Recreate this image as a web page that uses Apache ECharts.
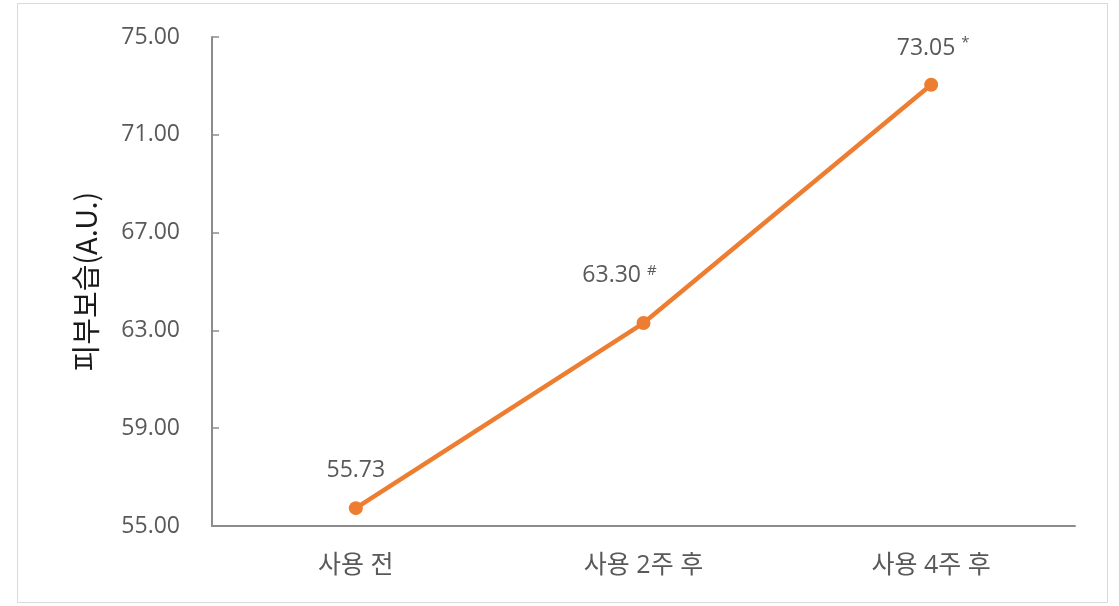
<!DOCTYPE html>
<html>
<head>
<meta charset="utf-8">
<script src="https://cdn.jsdelivr.net/npm/echarts@6/dist/echarts.min.js"></script>
<style>
html,body{margin:0;padding:0;background:#fff;}
#chart{width:1119px;height:606px;}
</style>
</head>
<body>
<div id="chart"></div>
<script>
// Skin moisture over the usage period
const categories = ['사용 전', '사용 2주 후', '사용 4주 후'];
const moisture = [55.73, 63.30, 73.05];
const marks = ['', '#', '*'];
const yTicks = { min: 55, max: 75, interval: 4 };

const font = '"Open Sans", "Noto Sans CJK KR", sans-serif';
const krFont = '"Noto Sans CJK KR", sans-serif';
const labelOffsets = [[0, -9], [-24, -18], [2, -7]];

const chart = echarts.init(document.getElementById('chart'));
chart.setOption({
  animation: false,
  graphic: [{
    type: 'rect',
    shape: { x: 17.5, y: 3.5, width: 1090, height: 599 },
    style: { fill: 'none', stroke: '#d9d9d9', lineWidth: 1 }
  }],
  grid: { left: 212, right: 44, top: 37, bottom: 80 },
  xAxis: {
    type: 'category',
    data: categories,
    boundaryGap: true,
    axisLine: { lineStyle: { color: '#8c8c8c', width: 2 } },
    axisTick: { show: false },
    axisLabel: { color: '#595959', fontSize: 25, fontFamily: font, margin: 27 }
  },
  yAxis: {
    type: 'value',
    min: yTicks.min, max: yTicks.max, interval: yTicks.interval,
    name: '피부보습(A.U.)',
    nameLocation: 'middle',
    nameGap: 112,
    nameTextStyle: { color: '#1a1a1a', fontSize: 29, fontFamily: krFont },
    axisLine: { show: true, lineStyle: { color: '#8c8c8c', width: 2 } },
    axisTick: { show: true, inside: true, length: 7, lineStyle: { color: '#8c8c8c', width: 1.5 } },
    splitLine: { show: false },
    axisLabel: {
      color: '#595959', fontSize: 23, fontFamily: font, margin: 32,
      formatter: v => v.toFixed(2)
    }
  },
  series: [{
    type: 'line',
    data: moisture.map((v, i) => ({
      value: v,
      label: { offset: labelOffsets[i] }
    })),
    symbol: 'circle',
    symbolSize: 14,
    lineStyle: { color: '#ED7D31', width: 4.5 },
    itemStyle: { color: '#ED7D31' },
    label: {
      show: true,
      position: 'top',
      distance: 10,
      color: '#595959',
      fontSize: 23,
      fontFamily: font,
      formatter: p => marks[p.dataIndex]
        ? p.value.toFixed(2) + ' {s|' + marks[p.dataIndex] + '}'
        : p.value.toFixed(2),
      rich: {
        s: { fontSize: 15, color: '#595959', fontFamily: font, verticalAlign: 'top', padding: [0, 0, 10, 0] }
      }
    }
  }]
});
</script>
</body>
</html>
